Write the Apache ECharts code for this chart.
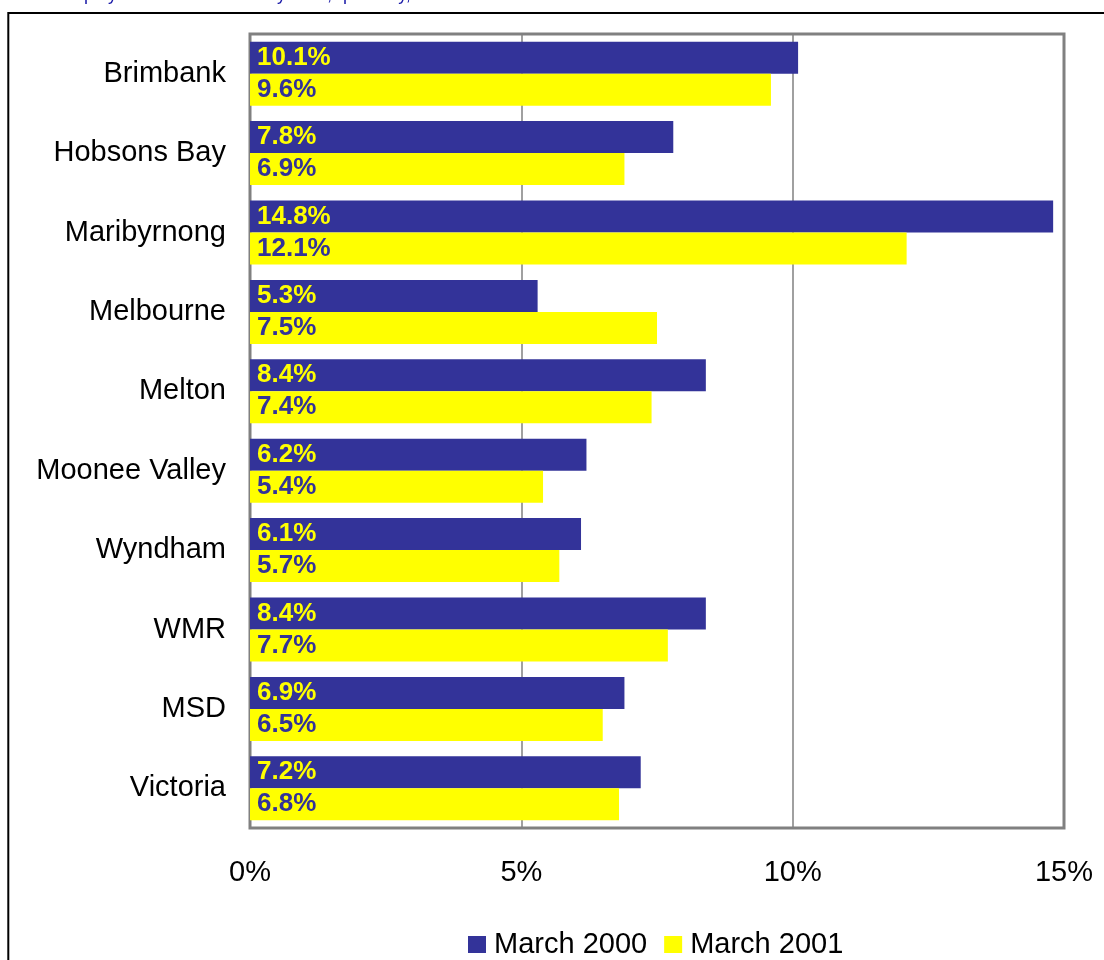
<!DOCTYPE html>
<html>
<head>
<meta charset="utf-8">
<script src="https://cdn.jsdelivr.net/npm/echarts@6/dist/echarts.min.js"></script>
<style>
html,body{margin:0;padding:0;background:#fff;}
#chart{width:1104px;height:960px;}
</style>
</head>
<body>
<div id="chart"></div>
<script>
const categories = ['Brimbank', 'Hobsons Bay', 'Maribyrnong', 'Melbourne', 'Melton', 'Moonee Valley', 'Wyndham', 'WMR', 'MSD', 'Victoria'];
const march2000 = [10.1, 7.8, 14.8, 5.3, 8.4, 6.2, 6.1, 8.4, 6.9, 7.2];
const march2001 = [9.6, 6.9, 12.1, 7.5, 7.4, 5.4, 5.7, 7.7, 6.5, 6.8];
const seriesNames = ['March 2000', 'March 2001'];
const titleText = 'Unemployment rate in WMR by LGA, quarterly, March 2000 and March 2001';

const FONT = "'Liberation Sans', Arial, sans-serif";
const BLUE = '#333399';
const YELLOW = '#FFFF00';

const chart = echarts.init(document.getElementById('chart'), null, {renderer: 'canvas'});

function barLabel(color) {
  return {
    show: true,
    position: 'insideLeft',
    distance: 7,
    color: color,
    fontFamily: FONT,
    fontWeight: 'bold',
    fontSize: 26,
    formatter: p => p.value.toFixed(1) + '%'
  };
}

chart.setOption({
  animation: false,
  backgroundColor: '#fff',
  graphic: [
    {
      type: 'rect',
      shape: {x: 8.3, y: 13, width: 1300, height: 1100},
      style: {fill: 'none', stroke: '#000', lineWidth: 2},
      silent: true,
      z: -1
    },
    {
      type: 'text',
      x: 36,
      y: 4,
      style: {
        text: titleText,
        fill: '#1a1aa8',
        font: "18px 'Liberation Sans', Arial, sans-serif",
        verticalAlign: 'bottom'
      },
      silent: true
    }
  ],
  grid: {
    left: 250,
    top: 34,
    right: 40,
    bottom: 132,
    show: true,
    borderColor: '#808080',
    borderWidth: 3,
    backgroundColor: '#fff',
    containLabel: false
  },
  legend: {
    data: seriesNames,
    top: 925,
    left: 463,
    icon: 'rect',
    itemWidth: 18,
    itemHeight: 17,
    itemGap: 17,
    textStyle: {fontFamily: FONT, fontSize: 29, color: '#000', padding: [0, 0, 0, 3]},
    selectedMode: false
  },
  xAxis: {
    type: 'value',
    min: 0,
    max: 15,
    interval: 5,
    axisLine: {show: false},
    axisTick: {show: false},
    axisLabel: {
      formatter: '{value}%',
      fontFamily: FONT,
      fontSize: 29,
      color: '#000',
      margin: 30
    },
    splitLine: {show: true, lineStyle: {color: '#808080', width: 1.5}}
  },
  yAxis: {
    type: 'category',
    data: categories,
    inverse: true,
    axisLine: {show: false},
    axisTick: {show: false},
    axisLabel: {
      fontFamily: FONT,
      fontSize: 29,
      color: '#000',
      margin: 24
    },
    splitLine: {show: false}
  },
  series: [
    {
      name: seriesNames[0],
      type: 'bar',
      data: march2000,
      barWidth: 32,
      barGap: '0%',
      itemStyle: {color: BLUE},
      label: barLabel(YELLOW)
    },
    {
      name: seriesNames[1],
      type: 'bar',
      data: march2001,
      barWidth: 32,
      barGap: '0%',
      itemStyle: {color: YELLOW},
      label: barLabel(BLUE)
    }
  ]
});
</script>
</body>
</html>
